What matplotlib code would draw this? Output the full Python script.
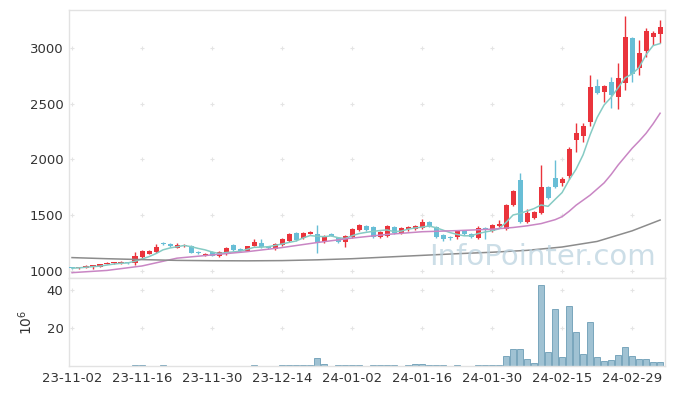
import numpy as np
import pandas as pd
import matplotlib
matplotlib.use('Agg')
import matplotlib.pyplot as plt

# daily OHLC, 2023-11-02 .. 2024-03-07 (trading days)
open_ = [1027, 1025, 1030, 1032, 1038, 1066, 1070, 1073, 1077, 1072,
         1125, 1155, 1170, 1245, 1242, 1210, 1225, 1228, 1165, 1140,
         1170, 1135, 1152, 1233, 1197, 1180, 1224, 1251, 1215, 1197,
         1233, 1269, 1341, 1296, 1332, 1335, 1260, 1332, 1296, 1260,
         1305, 1368, 1404, 1395, 1305, 1314, 1395, 1341, 1377, 1377,
         1386, 1440, 1395, 1323, 1300, 1305, 1359, 1332, 1296, 1386,
         1359, 1405, 1377, 1592, 1816, 1440, 1475, 1520, 1753, 1834,
         1790, 1852, 2175, 2211, 2337, 2660, 2605, 2695, 2560, 2690,
         3090, 2821, 2973, 3099, 3126]
high = [1035, 1040, 1050, 1058, 1066, 1078, 1080, 1086, 1085, 1170,
        1190, 1188, 1245, 1258, 1248, 1250, 1245, 1235, 1178, 1165,
        1175, 1175, 1215, 1240, 1205, 1228, 1285, 1290, 1222, 1248,
        1292, 1340, 1350, 1350, 1362, 1415, 1320, 1338, 1302, 1320,
        1385, 1422, 1410, 1400, 1356, 1410, 1402, 1392, 1400, 1410,
        1462, 1452, 1400, 1330, 1318, 1370, 1365, 1345, 1400, 1395,
        1422, 1460, 1600, 1730, 1880, 1560, 1540, 1950, 1760, 1996,
        1843, 2110, 2329, 2330, 2760, 2720, 2670, 2740, 2865, 3290,
        3095, 3072, 3180, 3150, 3250]
low = [1020, 1018, 1025, 1020, 1032, 1060, 1065, 1065, 1066, 1055,
       1115, 1150, 1165, 1235, 1215, 1205, 1218, 1160, 1150, 1132,
       1130, 1128, 1145, 1180, 1178, 1175, 1220, 1210, 1200, 1188,
       1228, 1262, 1270, 1290, 1328, 1165, 1250, 1310, 1255, 1215,
       1298, 1362, 1362, 1298, 1300, 1308, 1335, 1335, 1360, 1372,
       1380, 1390, 1298, 1270, 1280, 1290, 1325, 1298, 1290, 1287,
       1350, 1395, 1370, 1580, 1430, 1430, 1465, 1510, 1650, 1745,
       1763, 1825, 2068, 2160, 2300, 2590, 2515, 2460, 2450, 2620,
       2695, 2758, 2920, 3030, 3045]
close = [1025, 1031, 1045, 1055, 1062, 1075, 1076, 1077, 1073, 1135,
         1179, 1179, 1215, 1240, 1220, 1233, 1235, 1165, 1160, 1155,
         1135, 1170, 1206, 1188, 1182, 1224, 1260, 1215, 1206, 1242,
         1287, 1332, 1278, 1341, 1350, 1255, 1314, 1314, 1260, 1314,
         1377, 1413, 1368, 1305, 1350, 1404, 1341, 1386, 1395, 1404,
         1440, 1395, 1305, 1287, 1295, 1359, 1332, 1305, 1386, 1368,
         1413, 1420, 1592, 1718, 1440, 1520, 1530, 1753, 1655, 1753,
         1825, 2094, 2238, 2300, 2650, 2597, 2660, 2578, 2730, 3099,
         2767, 2955, 3153, 3135, 3189]

# volume in millions
volume = [0.2, 0.2, 0.2, 0.2, 0.2, 0.2, 0.2, 0.2, 0.2, 0.5,
          0.5, 0.2, 0.2, 0.5, 0.2, 0.2, 0.2, 0.2, 0.2, 0.2,
          0.2, 0.2, 0.2, 0.2, 0.2, 0.2, 0.5, 0.2, 0.2, 0.2,
          0.5, 0.5, 0.5, 0.5, 0.5, 4.1, 1.2, 0.2, 0.5, 0.5,
          0.5, 0.5, 0.2, 0.5, 0.5, 0.5, 0.5, 0.2, 0.5, 0.9,
          0.9, 0.5, 0.5, 0.5, 0.2, 0.5, 0.2, 0.2, 0.5, 0.5,
          0.5, 0.5, 5.2, 8.8, 8.8, 3.6, 1.5, 42.4, 7.2, 30.0,
          4.7, 31.4, 18.1, 6.2, 23.3, 4.5, 2.6, 3.1, 6.0, 10.2,
          5.2, 3.6, 3.6, 2.1, 2.1]

# 20-day and 120-day averages (need history before the window)
ma20_idx = [0, 5, 10, 15, 20, 25, 30, 35, 40, 45, 50, 55, 60, 63, 65, 67,
            69, 70, 71, 72, 73, 74, 75, 76, 77, 78, 79, 80, 81, 82, 83, 84]
ma20_val = [985, 1005, 1045, 1115, 1144, 1173, 1210, 1255, 1295, 1328, 1352,
            1362, 1375, 1390, 1405, 1425, 1460, 1487, 1535, 1590, 1635, 1680,
            1735, 1790, 1865, 1950, 2025, 2100, 2165, 2235, 2320, 2415]
ma120_idx = [0, 5, 10, 15, 20, 25, 30, 35, 40, 45, 50, 55, 60, 65, 70, 75, 80, 84]
ma120_val = [1120, 1110, 1102, 1095, 1092, 1091, 1093, 1100, 1110, 1125, 1140,
             1155, 1168, 1185, 1215, 1265, 1360, 1457]

tick_labels = ['23-11-02', '23-11-16', '23-11-30', '23-12-14', '24-01-02',
               '24-01-16', '24-01-30', '24-02-15', '24-02-29']

plt.rcParams['font.family'] = ['DejaVu Sans']

UP, DOWN = '#ea343c', '#68bed6'
EDGE = '#e2e2e2'
TXT = '#333333'

fig = plt.figure(figsize=(6.73, 3.96), dpi=100)
ax = fig.add_axes([69 / 673, (396 - 278) / 396, 596 / 673, 268 / 396])
axv = fig.add_axes([69 / 673, (396 - 366) / 396, 596 / 673, 88 / 396], sharex=ax)

x = np.arange(len(close))
o = np.array(open_, float)
c = np.array(close, float)
h = np.array(high, float)
l = np.array(low, float)
up = c >= o
cols = np.where(up, UP, DOWN)

# candles
ax.vlines(x, l, h, colors=cols, linewidth=1, zorder=2)
body_lo = np.minimum(o, c)
body_h = np.maximum(np.abs(c - o), 7)
ax.bar(x, body_h, bottom=body_lo, width=0.72, color=cols, linewidth=0, zorder=3)

# moving averages
ma5 = pd.Series(c).rolling(5, min_periods=1).mean()
ax.plot(x, ma5, color='#86cbc4', lw=1.1, zorder=4)
ax.plot(ma20_idx, ma20_val, color='#c986c4', lw=1.1, zorder=4)
ax.plot(ma120_idx, ma120_val, color='#8c8c8c', lw=1.1, zorder=4)

# volume
axv.bar(x, volume, width=0.9, color='#8fb8cc', edgecolor='#6a9cb4',
        linewidth=0.7, alpha=0.85, zorder=2)

ax.set_xlim(-0.43, 84.7)
ax.set_ylim(937, 3341)
axv.set_ylim(0, 46.3)

ax.set_yticks([1000, 1500, 2000, 2500, 3000])
axv.set_yticks([20, 40])
axv.set_xticks(range(0, 85, 10))
axv.set_xticklabels(tick_labels)
plt.setp(ax.get_xticklabels(), visible=False)

for a in (ax, axv):
    a.tick_params(length=0, labelsize=9.5, colors=TXT, pad=4)
    for s in a.spines.values():
        s.set_color(EDGE)
        s.set_linewidth(1)
    # little cross markers at the grid intersections
    gx, gy = np.meshgrid(np.arange(0, 85, 10), a.get_yticks())
    a.scatter(gx.ravel(), gy.ravel(), marker='+', s=12, color='#e4e4e4',
              linewidths=0.8, zorder=1)

axv.set_ylabel('$10^6$', fontsize=10, color=TXT, labelpad=8)

fig.text(656 / 673, (396 - 257) / 396, 'InfoPointer.com', fontsize=21,
         color='#bcd3e0', alpha=0.75, ha='right', va='center', zorder=0)

fig.savefig('out.png', dpi=100, facecolor='white')
